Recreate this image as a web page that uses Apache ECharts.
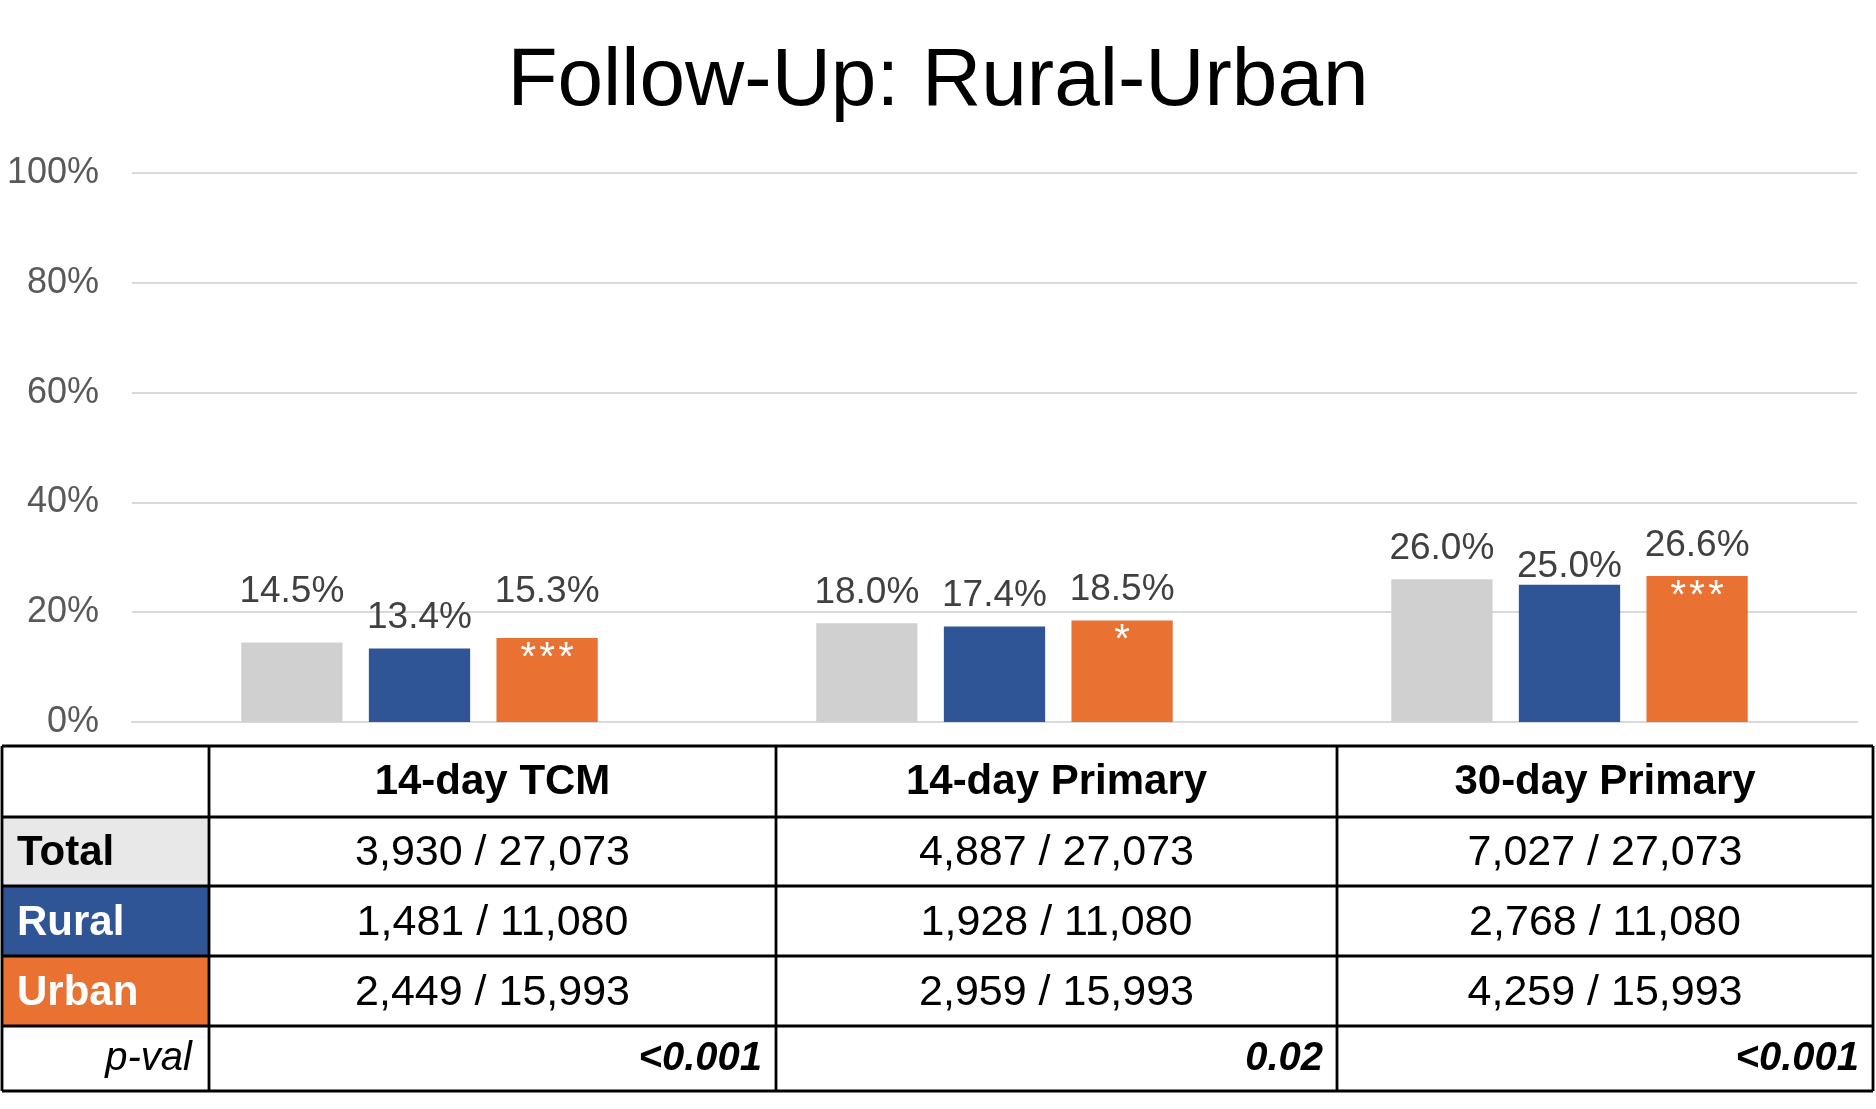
<!DOCTYPE html>
<html><head><meta charset="utf-8">
<script src="https://cdn.jsdelivr.net/npm/echarts@6/dist/echarts.min.js"></script>
<style>html,body{margin:0;padding:0;background:#fff}#c{width:1876px;height:1109px}</style>
</head><body><div id="c"></div>
<script>
// ---- data ----
const categories = ['14-day TCM', '14-day Primary', '30-day Primary'];
const groupNames = ['Total', 'Rural', 'Urban'];
const totalPct = [14.5, 18.0, 26.0];
const ruralPct = [13.4, 17.4, 25.0];
const urbanPct = [15.3, 18.5, 26.6];
const significance = ['***', '*', '***'];
const totalEvents = [3930, 4887, 7027];
const ruralEvents = [1481, 1928, 2768];
const urbanEvents = [2449, 2959, 4259];
const totalN = 27073, ruralN = 11080, urbanN = 15993;
const pValues = ['<0.001', '0.02', '<0.001'];
const yMin = 0, yMax = 100, yStep = 20;

// ---- style ----
const colors = { Total: '#D0D0D0', Rural: '#2F5597', Urban: '#E97132' };
const rowLabelBg = { Total: '#E8E8E8', Rural: '#2F5597', Urban: '#E97132' };
const rowLabelFg = { Total: '#000000', Rural: '#FFFFFF', Urban: '#FFFFFF' };
const labelLift = { Total: [20, 0, 0], Rural: [0, 0, -13], Urban: [16, 0, 0] };
const FONT = "'Liberation Sans', Arial, sans-serif";
const colX = [2, 209, 776, 1337, 1873];
const rowY = [746, 817, 886, 956, 1026, 1091];

const fmt = n => n.toLocaleString('en-US');
const spaced = s => s.split('').join('\u200A');
const pctSeries = { Total: totalPct, Rural: ruralPct, Urban: urbanPct };

const series = groupNames.map(g => ({
  name: g,
  type: 'bar',
  barGap: '26%',
  barCategoryGap: '38%',
  itemStyle: { color: colors[g] },
  data: pctSeries[g].map((v, i) => ({ value: v, label: { offset: [0, -labelLift[g][i]] } })),
  label: {
    show: true, position: 'top', distance: 12,
    fontSize: 37, fontFamily: FONT, color: '#404040',
    formatter: p => p.value.toFixed(1) + '%'
  },
  markPoint: g === 'Urban' ? {
    silent: true,
    symbol: 'rect', symbolSize: 1,
    itemStyle: { color: 'rgba(0,0,0,0)' },
    label: { show: true, position: 'inside', offset: [0, 21], color: '#FFFFFF', fontSize: 40, fontFamily: FONT, formatter: p => spaced(p.name) },
    data: categories.map((c, i) => ({ name: significance[i], coord: [c, urbanPct[i]] }))
  } : undefined
}));

// ---- table graphics ----
const graphic = [];
const rowsText = [
  { label: 'Total', cells: totalEvents.map(e => fmt(e) + ' / ' + fmt(totalN)) },
  { label: 'Rural', cells: ruralEvents.map(e => fmt(e) + ' / ' + fmt(ruralN)) },
  { label: 'Urban', cells: urbanEvents.map(e => fmt(e) + ' / ' + fmt(urbanN)) }
];
rowsText.forEach((r, k) => {
  graphic.push({ type: 'rect', shape: { x: colX[0], y: rowY[k + 1], width: colX[1] - colX[0], height: rowY[k + 2] - rowY[k + 1] }, style: { fill: rowLabelBg[r.label] }, z: 1 });
});
rowY.forEach(y => graphic.push({ type: 'line', shape: { x1: colX[0], y1: y, x2: colX[4], y2: y }, style: { stroke: '#000', lineWidth: 2.8 }, z: 3 }));
colX.forEach(x => graphic.push({ type: 'line', shape: { x1: x, y1: rowY[0], x2: x, y2: rowY[5] }, style: { stroke: '#000', lineWidth: 2.8 }, z: 3 }));
const midY = k => (rowY[k] + rowY[k + 1]) / 2;
const midX = j => (colX[j] + colX[j + 1]) / 2;
categories.forEach((c, j) => {
  graphic.push({ type: 'text', z: 4, style: { text: c, x: midX(j + 1), y: midY(0) + 1, fill: '#000', fontSize: 42, fontWeight: 'bold', fontFamily: FONT, align: 'center', verticalAlign: 'middle' } });
});
rowsText.forEach((r, k) => {
  graphic.push({ type: 'text', z: 4, style: { text: r.label, x: colX[0] + 15, y: midY(k + 1) + 2, fill: rowLabelFg[r.label], fontSize: 42, fontWeight: 'bold', fontFamily: FONT, align: 'left', verticalAlign: 'middle' } });
  r.cells.forEach((t, j) => {
    graphic.push({ type: 'text', z: 4, style: { text: t, x: midX(j + 1), y: midY(k + 1) + 2, fill: '#000', fontSize: 43, fontFamily: FONT, align: 'center', verticalAlign: 'middle' } });
  });
});
graphic.push({ type: 'text', z: 4, style: { text: 'p-val', x: colX[1] - 17, y: midY(4), fill: '#000', fontSize: 40, fontStyle: 'italic', fontFamily: FONT, align: 'right', verticalAlign: 'middle' } });
pValues.forEach((p, j) => {
  graphic.push({ type: 'text', z: 4, style: { text: p, x: colX[j + 2] - 14, y: midY(4), fill: '#000', fontSize: 40, fontStyle: 'italic', fontWeight: 'bold', fontFamily: FONT, align: 'right', verticalAlign: 'middle' } });
});

const chart = echarts.init(document.getElementById('c'));
chart.setOption({
  animation: false,
  backgroundColor: '#fff',
  title: {
    text: 'Follow-Up: Rural-Urban', left: 'center', top: 36,
    textStyle: { fontSize: 82, fontWeight: 'normal', color: '#000', fontFamily: FONT }
  },
  grid: { left: 132, right: 19, top: 173, bottom: 387 },
  xAxis: {
    type: 'category', data: categories,
    axisLine: { lineStyle: { color: '#D9D9D9', width: 2 } },
    axisTick: { show: false }, axisLabel: { show: false }
  },
  yAxis: {
    type: 'value', min: yMin, max: yMax, interval: yStep,
    axisLine: { show: false }, axisTick: { show: false },
    axisLabel: { fontSize: 36, color: '#595959', fontFamily: FONT, margin: 33, formatter: '{value}%' },
    splitLine: { lineStyle: { color: '#D9D9D9', width: 2 } }
  },
  series,
  graphic
});
</script>
</body></html>
